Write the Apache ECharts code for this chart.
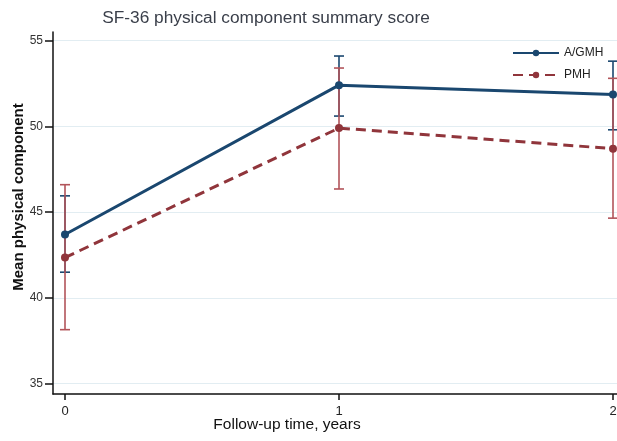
<!DOCTYPE html>
<html>
<head>
<meta charset="utf-8">
<script src="https://cdn.jsdelivr.net/npm/echarts@6/dist/echarts.min.js"></script>
<style>
  html, body { margin: 0; padding: 0; background: #fff; }
  #chart { width: 617px; height: 441px; }
</style>
</head>
<body>
<div id="chart"></div>
<script>
const years = [0, 1, 2];
const yTicks = [35, 40, 45, 50, 55];

const agmhMean = [43.7, 52.4, 51.85];
const agmhLow = [41.5, 50.6, 49.8];
const agmhHigh = [45.95, 54.1, 53.8];

const pmhMean = [42.35, 49.9, 48.7];
const pmhLow = [38.15, 46.35, 44.65];
const pmhHigh = [46.6, 53.4, 52.8];

const BLUE = "#1a476f";
const RED = "#90353b";
const RED_BAR = "#b2545a";
const FONT = "Liberation Sans, Arial, sans-serif";

function errorBars(name, low, high, color) {
  return {
    name: name + " CI",
    type: "custom",
    silent: true,
    z: 1,
    data: years.map((x, i) => [x, low[i], high[i]]),
    renderItem(params, api) {
      const lo = api.coord([api.value(0), api.value(1)]);
      const hi = api.coord([api.value(0), api.value(2)]);
      const half = 5;
      const style = { stroke: color, lineWidth: 1.6 };
      return {
        type: "group",
        children: [
          { type: "line", shape: { x1: lo[0], y1: lo[1], x2: hi[0], y2: hi[1] }, style },
          { type: "line", shape: { x1: lo[0] - half, y1: lo[1], x2: lo[0] + half, y2: lo[1] }, style },
          { type: "line", shape: { x1: hi[0] - half, y1: hi[1], x2: hi[0] + half, y2: hi[1] }, style },
        ],
      };
    },
  };
}

const chart = echarts.init(document.getElementById("chart"));
chart.setOption({
  animation: false,
  title: {
    text: "SF-36 physical component summary score",
    left: 261,
    textAlign: "center",
    top: 5,
    textStyle: { fontFamily: FONT, fontSize: 17.3, fontWeight: "normal", color: "#3a3f4a" },
  },
  legend: {
    orient: "vertical",
    left: 507,
    top: 42,
    itemWidth: 46,
    itemHeight: 8,
    itemGap: 10,
    data: ["A/GMH", "PMH"],
    textStyle: { fontFamily: FONT, fontSize: 12, color: "#222" },
  },
  grid: { left: 53, right: 0, top: 32, bottom: 47, outerBoundsMode: "none" },
  xAxis: {
    type: "value",
    min: -0.0438,
    max: 2.0146,
    name: "Follow-up time, years",
    nameLocation: "middle",
    nameGap: 23,
    nameMoveOverlap: false,
    nameTextStyle: { fontFamily: FONT, fontSize: 15.5, color: "#111", padding: [0, 96, 0, 0] },
    axisLine: { lineStyle: { color: "#111", width: 1.5 } },
    axisTick: { customValues: years, length: 6, lineStyle: { color: "#111", width: 1.5 } },
    axisLabel: { customValues: years, fontFamily: FONT, fontSize: 13, color: "#222", margin: 11 },
    splitLine: { show: false },
  },
  yAxis: {
    type: "value",
    min: 34.4,
    max: 55.5,
    name: "Mean physical component",
    nameLocation: "middle",
    nameGap: 27,
    nameMoveOverlap: false,
    nameTextStyle: { fontFamily: FONT, fontSize: 15, fontWeight: "bold", color: "#111", padding: [0, 0, 0, 32] },
    axisLine: { show: true, onZero: false, lineStyle: { color: "#111", width: 1.5 } },
    axisTick: { show: true, customValues: yTicks, length: 8, lineStyle: { color: "#111", width: 1.5 } },
    axisLabel: { customValues: yTicks, fontFamily: FONT, fontSize: 12, color: "#333", margin: 10 },
    splitLine: { show: true, lineStyle: { color: "#e2edf2", width: 1 } },
  },
  series: [
    errorBars("A/GMH", agmhLow, agmhHigh, BLUE),
    errorBars("PMH", pmhLow, pmhHigh, RED_BAR),
    {
      name: "A/GMH",
      type: "line",
      z: 3,
      data: years.map((x, i) => [x, agmhMean[i]]),
      symbol: "circle",
      symbolSize: 8,
      color: BLUE,
      lineStyle: { color: BLUE, width: 3 },
      itemStyle: { color: BLUE },
    },
    {
      name: "PMH",
      type: "line",
      z: 2,
      data: years.map((x, i) => [x, pmhMean[i]]),
      symbol: "circle",
      symbolSize: 8,
      color: RED,
      lineStyle: { color: RED, width: 3, type: [10, 6] },
      itemStyle: { color: RED },
    },
  ],
});
</script>
</body>
</html>
